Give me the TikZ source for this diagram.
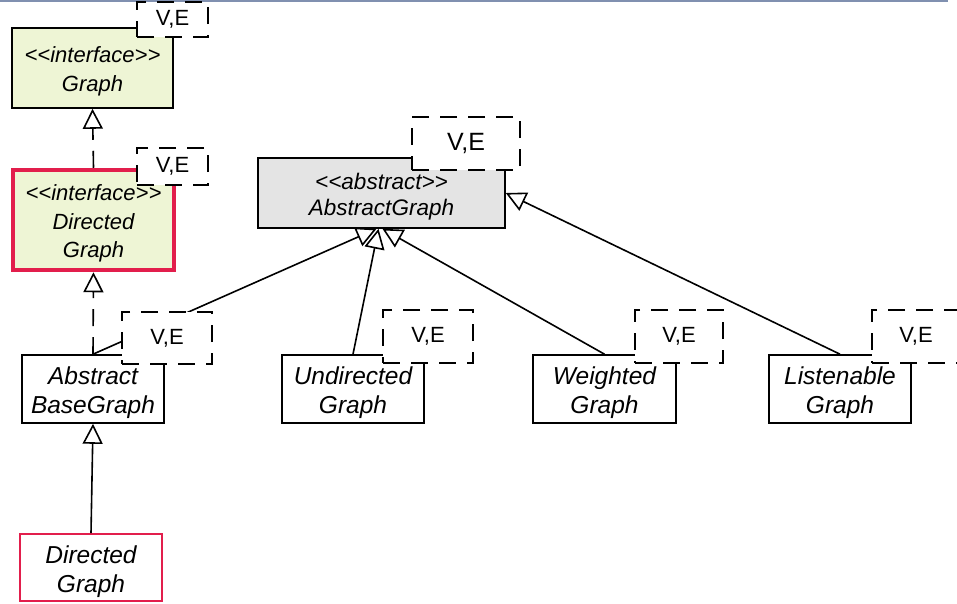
\documentclass[tikz,border=0pt]{standalone}
\usepackage{fontspec}
\setmainfont{Liberation Sans}
\usetikzlibrary{arrows.meta,calc}
\definecolor{ifill}{HTML}{EEF5D5}
\definecolor{gfill}{HTML}{E4E4E4}
\definecolor{hred}{HTML}{E21E4C}
\definecolor{topline}{HTML}{8090B0}
\newcommand{\lgl}{<{}<}
\newcommand{\rgl}{>{}>}
\newcommand{\tstrut}[1]{\rule{0pt}{#1}}
\begin{document}
\begin{tikzpicture}[x=1pt,y=-1pt,
  cls/.style={draw=black, line width=1.6pt, rectangle, inner sep=0pt, align=center,
    font=\itshape\fontsize{24.5}{29}\selectfont},
  iface/.style={cls, fill=ifill, font=\itshape\fontsize{22}{28.5}\selectfont},
  tparam/.style={draw=black, dash pattern=on 17pt off 11pt, fill=white, line width=1.6pt,
    rectangle, inner sep=0pt, font=\fontsize{22}{24}\selectfont},
  inh/.style={-{Triangle[open,length=20pt,width=20pt]}, line width=1.6pt},
  dinh/.style={inh, dash pattern=on 17pt off 11pt}]
\useasboundingbox (0,0) rectangle (957,603);
\clip (0,0) rectangle (957,603);
\draw[topline, line width=2.5pt] (0,1) -- (948,1);
% classes
\node[iface, minimum width=161pt, minimum height=80pt] (graph) at (92.5,68) {\tstrut{23pt}\lgl interface\rgl\\Graph};
\node[iface, draw=hred, line width=4.5pt, minimum width=161pt, minimum height=100pt] (dgi) at (93.5,220) {\tstrut{23pt}\lgl interface\rgl\\Directed\\Graph};
\node[cls, minimum width=142pt, minimum height=68pt] (abg) at (93,389) {\tstrut{26pt}Abstract\\BaseGraph};
\node[cls, fill=gfill, minimum width=247pt, minimum height=70pt, font=\itshape\fontsize{22.5}{26}\selectfont] (ag) at (381.5,193) {\tstrut{23pt}\lgl abstract\rgl\\AbstractGraph};
\node[cls, minimum width=142pt, minimum height=68pt] (ug) at (353,389) {\tstrut{26pt}Undirected\\Graph};
\node[cls, minimum width=143pt, minimum height=68pt] (wg) at (604.5,389) {\tstrut{26pt}Weighted\\Graph};
\node[cls, minimum width=142pt, minimum height=68pt] (lg) at (840,389) {\tstrut{26pt}Listenable\\Graph};
\node[cls, draw=hred, minimum width=142pt, minimum height=67pt] (dg) at (91,567.5) {\tstrut{26pt}Directed\\Graph};
% connectors
\draw[dinh] (dgi.north) -- (graph.south);
\draw[dinh] (abg.north) -- (dgi.south);
\draw[inh] (abg.north) -- ($(ag.south)+(-5,0)$);
\draw[inh] (ug.north) -- ($(ag.south)+(-3,0)$);
\draw[inh] (wg.north) -- ($(ag.south)+(1,0)$);
\draw[inh] (lg.north) -- (ag.east);
\draw[inh] (dg.north) -- (abg.south);
% type parameters
\node[tparam, minimum width=71pt, minimum height=35pt] (tp1) at (172.5,19.5) {V,E};
\node[tparam, minimum width=71pt, minimum height=37pt] (tp2) at (172.5,166.5) {V,E};
\node[tparam, minimum width=90pt, minimum height=52pt] (tp3) at (167,338) {V,E};
\node[tparam, minimum width=108pt, minimum height=53pt, font=\fontsize{25}{27}\selectfont] (tp4) at (466,143.5) {V,E};
\node[tparam, minimum width=90pt, minimum height=53pt] (tp5) at (428,336.5) {V,E};
\node[tparam, minimum width=88pt, minimum height=53pt] (tp6) at (679,336.5) {V,E};
\node[tparam, minimum width=88pt, minimum height=53pt] (tp7) at (916,336.5) {V,E};
\end{tikzpicture}
\end{document}
